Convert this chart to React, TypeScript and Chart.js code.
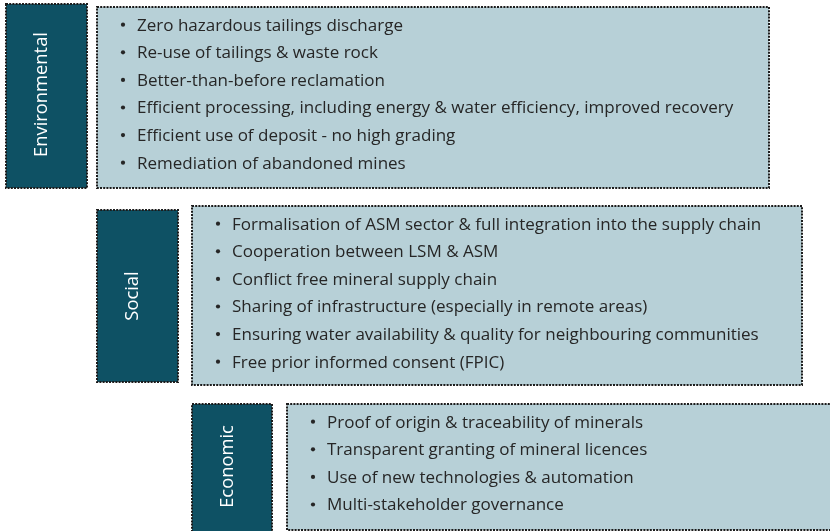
import React, { useEffect, useRef } from "react";
import { Chart, registerables } from "chart.js";

Chart.register(...registerables);

const CATEGORIES = ["Environmental", "Social", "Economic"];

const ENVIRONMENTAL_ITEMS = [
  "Zero hazardous tailings discharge",
  "Re-use of tailings & waste rock",
  "Better-than-before reclamation",
  "Efficient processing, including energy & water efficiency, improved recovery",
  "Efficient use of deposit - no high grading",
  "Remediation of abandoned mines",
];

const SOCIAL_ITEMS = [
  "Formalisation of ASM sector & full integration into the supply chain",
  "Cooperation between LSM & ASM",
  "Conflict free mineral supply chain",
  "Sharing of infrastructure (especially in remote areas)",
  "Ensuring water availability & quality for neighbouring communities",
  "Free prior informed consent (FPIC)",
];

const ECONOMIC_ITEMS = [
  "Proof of origin & traceability of minerals",
  "Transparent granting of mineral licences",
  "Use of new technologies & automation",
  "Multi-stakeholder governance",
];

const ITEMS = [ENVIRONMENTAL_ITEMS, SOCIAL_ITEMS, ECONOMIC_ITEMS];

// layout (in scale units, 1 unit = 1 px on an 830x531 canvas)
const LABEL_BOXES = [
  { x0: 6, x1: 87, y0: 4, y1: 188 },
  { x0: 97, x1: 178, y0: 210, y1: 382 },
  { x0: 192, x1: 272, y0: 404, y1: 540 },
];
const BODY_BOXES = [
  { x0: 97, x1: 769, y0: 7, y1: 188 },
  { x0: 192, x1: 802, y0: 206, y1: 385 },
  { x0: 287, x1: 840, y0: 404, y1: 530 },
];
const LABEL_ANCHORS = [
  { x: 47, y: 94.5 },
  { x: 138, y: 296 },
  { x: 233, y: 466.5 },
];

const DARK = "#0E5164";
const LIGHT = "#B7D0D7";
const TEXT = "#262626";
const BORDER = "#1c1c1c";
const FONT = "'Open Sans'";

function fitSize(ctx: CanvasRenderingContext2D, text: string, target: number) {
  ctx.font = `20px ${FONT}`;
  const w = ctx.measureText(text).width;
  return (20 * target) / w;
}

const boxesPlugin = {
  id: "boxes",
  afterDraw(chart: any) {
    const ctx = chart.ctx as CanvasRenderingContext2D;
    const xs = chart.scales.x;
    const ys = chart.scales.y;
    const rect = (b: any, fill: string) => {
      const x0 = Math.round(xs.getPixelForValue(b.x0));
      const x1 = Math.round(xs.getPixelForValue(b.x1));
      const y0 = Math.round(ys.getPixelForValue(b.y0));
      const y1 = Math.round(ys.getPixelForValue(b.y1));
      ctx.save();
      ctx.fillStyle = fill;
      ctx.fillRect(x0, y0, x1 - x0, y1 - y0);
      ctx.setLineDash([2, 1.2]);
      ctx.lineWidth = 2;
      ctx.strokeStyle = BORDER;
      ctx.strokeRect(x0, y0, x1 - x0, y1 - y0);
      ctx.restore();
    };
    ctx.save();
    const bodySize = fitSize(ctx, ENVIRONMENTAL_ITEMS[3], 597);
    const labelSize = fitSize(ctx, CATEGORIES[0], 125);
    ctx.restore();
    CATEGORIES.forEach((cat, i) => {
      rect(LABEL_BOXES[i], DARK);
      rect(BODY_BOXES[i], LIGHT);
      // rotated label
      ctx.save();
      ctx.translate(xs.getPixelForValue(LABEL_ANCHORS[i].x), ys.getPixelForValue(LABEL_ANCHORS[i].y));
      ctx.rotate(-Math.PI / 2);
      ctx.fillStyle = "#ffffff";
      ctx.font = `${labelSize}px ${FONT}`;
      ctx.textAlign = "center";
      ctx.textBaseline = "alphabetic";
      ctx.fillText(cat, 0, 0);
      ctx.restore();
      // bullets
      const b = BODY_BOXES[i];
      ctx.save();
      ctx.fillStyle = TEXT;
      ctx.font = `${bodySize}px ${FONT}`;
      ctx.textBaseline = "alphabetic";
      ctx.textAlign = "left";
      ITEMS[i].forEach((item, j) => {
        const yv = b.y0 + 23.5 + j * 27.6;
        const py = ys.getPixelForValue(yv);
        ctx.beginPath();
        ctx.arc(xs.getPixelForValue(b.x0 + 26), ys.getPixelForValue(yv - 5.8), 2.1, 0, Math.PI * 2);
        ctx.fill();
        ctx.fillText(item, xs.getPixelForValue(b.x0 + 40), py);
      });
      ctx.restore();
    });
  },
};

export default function App() {
  const ref = useRef<HTMLCanvasElement | null>(null);
  useEffect(() => {
    document.body.style.margin = "0";
    const canvas = ref.current!;
    const chart = new Chart(canvas, {
      type: "scatter",
      data: { datasets: [{ data: [] }] },
      options: {
        animation: false,
        responsive: false,
        layout: { padding: 0 },
        plugins: { legend: { display: false }, tooltip: { enabled: false } },
        scales: {
          x: { type: "linear", min: 0, max: 830, display: false },
          y: { type: "linear", min: 0, max: 531, reverse: true, display: false },
        },
      },
      plugins: [boxesPlugin],
    });
    return () => chart.destroy();
  }, []);
  return (
    <div style={{ width: 830, height: 531, background: "#ffffff" }}>
      <canvas ref={ref} width={830} height={531} style={{ display: "block" }} />
    </div>
  );
}
